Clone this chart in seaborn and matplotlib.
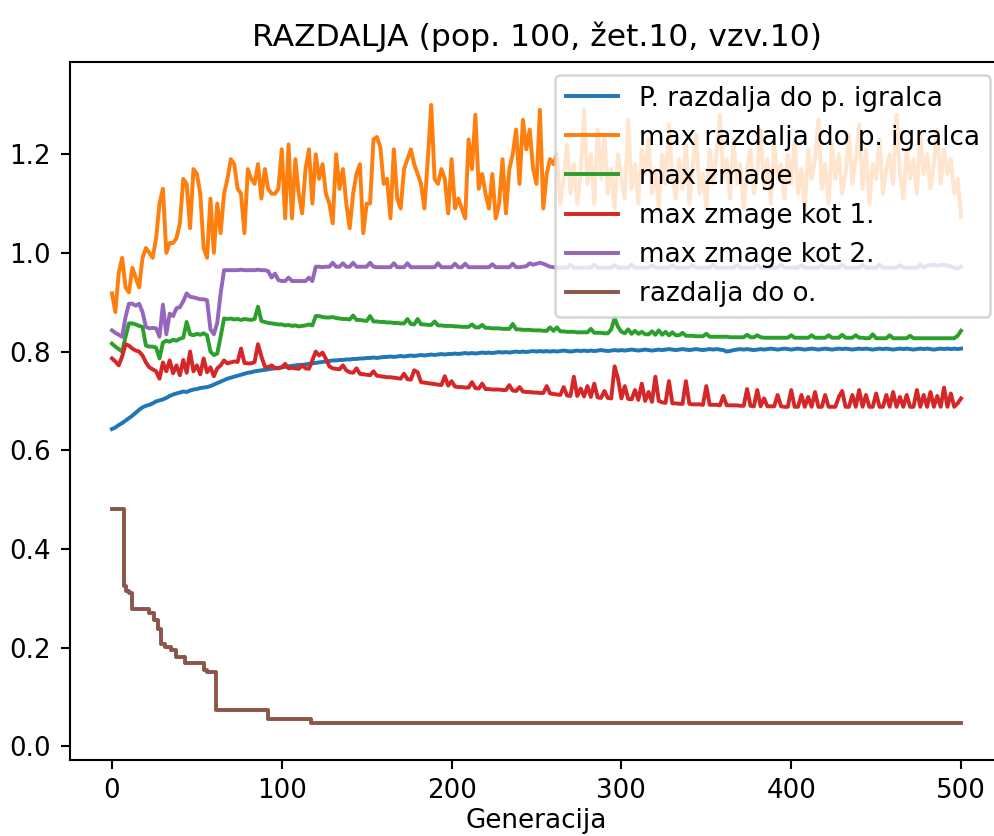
import matplotlib
matplotlib.use("Agg")
import matplotlib.pyplot as plt
import seaborn as sns
import pandas as pd

# generations sampled every second step
GENERACIJE = list(range(0, 501, 2))

P_RAZDALJA = [
    0.643, 0.646, 0.651, 0.655, 0.660, 0.665, 0.670, 0.676, 0.682, 0.687,
    0.690, 0.692, 0.695, 0.699, 0.701, 0.703, 0.706, 0.710, 0.713, 0.715,
    0.717, 0.719, 0.718, 0.721, 0.723, 0.724, 0.726, 0.727, 0.728, 0.730,
    0.733, 0.736, 0.739, 0.742, 0.745, 0.747, 0.749, 0.751, 0.753, 0.755,
    0.757, 0.758, 0.760, 0.761, 0.762, 0.763, 0.764, 0.765, 0.766, 0.767,
    0.768, 0.769, 0.770, 0.771, 0.772, 0.773, 0.773, 0.774, 0.775, 0.776,
    0.777, 0.778, 0.779, 0.780, 0.781, 0.782, 0.782, 0.783, 0.783, 0.784,
    0.784, 0.785, 0.785, 0.786, 0.786, 0.787, 0.787, 0.788, 0.787, 0.788,
    0.789, 0.789, 0.790, 0.789, 0.790, 0.791, 0.790, 0.791, 0.792, 0.791,
    0.792, 0.793, 0.792, 0.793, 0.794, 0.793, 0.794, 0.795, 0.794, 0.795,
    0.795, 0.796, 0.795, 0.796, 0.797, 0.796, 0.797, 0.796, 0.797, 0.798,
    0.797, 0.798, 0.797, 0.798, 0.799, 0.798, 0.799, 0.798, 0.799, 0.800,
    0.799, 0.800, 0.799, 0.800, 0.801, 0.800, 0.801, 0.800, 0.801, 0.800,
    0.801, 0.800, 0.801, 0.802, 0.801, 0.800, 0.801, 0.802, 0.801, 0.802,
    0.801, 0.802, 0.801, 0.802, 0.803, 0.802, 0.801, 0.802, 0.803, 0.802,
    0.803, 0.802, 0.803, 0.804, 0.803, 0.802, 0.803, 0.804, 0.803, 0.802,
    0.803, 0.804, 0.803, 0.804, 0.805, 0.804, 0.803, 0.804, 0.805, 0.804,
    0.803, 0.804, 0.805, 0.804, 0.803, 0.804, 0.805, 0.804, 0.805, 0.804,
    0.803, 0.800, 0.801, 0.803, 0.804, 0.805, 0.804, 0.805, 0.804, 0.803,
    0.804, 0.805, 0.804, 0.805, 0.806, 0.805, 0.804, 0.805, 0.806, 0.805,
    0.804, 0.805, 0.806, 0.805, 0.804, 0.805, 0.806, 0.805, 0.804, 0.805,
    0.806, 0.805, 0.804, 0.805, 0.806, 0.805, 0.806, 0.805, 0.804, 0.805,
    0.806, 0.805, 0.806, 0.805, 0.804, 0.805, 0.806, 0.805, 0.806, 0.805,
    0.804, 0.805, 0.806, 0.805, 0.806, 0.805, 0.804, 0.805, 0.806, 0.805,
    0.806, 0.805, 0.804, 0.805, 0.806, 0.805, 0.806, 0.805, 0.806, 0.805,
    0.806,
]

MAX_RAZDALJA = [
    0.918, 0.880, 0.960, 0.990, 0.930, 0.920, 0.970, 0.950, 0.930, 0.990,
    1.010, 1.000, 0.990, 1.030, 1.100, 1.130, 1.000, 1.020, 1.020, 1.030,
    1.060, 1.150, 1.140, 1.050, 1.170, 1.160, 1.120, 1.010, 0.990, 1.110,
    1.000, 1.100, 1.040, 1.120, 1.150, 1.190, 1.180, 1.130, 1.120, 1.040,
    1.170, 1.150, 1.140, 1.180, 1.110, 1.170, 1.130, 1.120, 1.120, 1.130,
    1.210, 1.070, 1.220, 1.070, 1.190, 1.120, 1.080, 1.170, 1.210, 1.100,
    1.200, 1.150, 1.180, 1.120, 1.100, 1.060, 1.200, 1.130, 1.170, 1.100,
    1.050, 1.120, 1.160, 1.180, 1.040, 1.100, 1.100, 1.230, 1.235, 1.215,
    1.140, 1.150, 1.070, 1.210, 1.110, 1.090, 1.170, 1.190, 1.210, 1.180,
    1.160, 1.140, 1.090, 1.190, 1.300, 1.150, 1.140, 1.170, 1.150, 1.080,
    1.190, 1.090, 1.110, 1.090, 1.070, 1.230, 1.170, 1.280, 1.130, 1.160,
    1.120, 1.090, 1.160, 1.070, 1.100, 1.190, 1.080, 1.170, 1.200, 1.250,
    1.140, 1.270, 1.210, 1.250, 1.170, 1.140, 1.290, 1.090, 1.160, 1.190,
    1.180, 1.200, 1.100, 1.150, 1.220, 1.120, 1.180, 1.100, 1.160, 1.290,
    1.140, 1.200, 1.100, 1.250, 1.150, 1.240, 1.120, 1.170, 1.090, 1.200,
    1.150, 1.110, 1.270, 1.130, 1.180, 1.100, 1.210, 1.160, 1.230, 1.120,
    1.170, 1.090, 1.200, 1.140, 1.260, 1.150, 1.110, 1.190, 1.130, 1.220,
    1.100, 1.180, 1.240, 1.120, 1.160, 1.090, 1.210, 1.140, 1.200, 1.280,
    1.150, 1.190, 1.110, 1.230, 1.140, 1.180, 1.090, 1.170, 1.210, 1.120,
    1.160, 1.250, 1.130, 1.190, 1.100, 1.220, 1.150, 1.180, 1.110, 1.200,
    1.140, 1.230, 1.120, 1.170, 1.090, 1.210, 1.150, 1.190, 1.270, 1.130,
    1.180, 1.100, 1.220, 1.150, 1.200, 1.120, 1.160, 1.240, 1.140, 1.190,
    1.260, 1.130, 1.210, 1.100, 1.180, 1.150, 1.230, 1.120, 1.170, 1.200,
    1.140, 1.280, 1.160, 1.110, 1.210, 1.150, 1.190, 1.120, 1.240, 1.160,
    1.200, 1.130, 1.180, 1.250, 1.140, 1.210, 1.160, 1.190, 1.120, 1.150,
    1.073,
]

MAX_ZMAGE = [
    0.816, 0.810, 0.805, 0.800, 0.830, 0.857, 0.857, 0.855, 0.852, 0.850,
    0.812, 0.810, 0.810, 0.808, 0.786, 0.818, 0.822, 0.820, 0.824, 0.822,
    0.826, 0.828, 0.860, 0.835, 0.833, 0.836, 0.834, 0.837, 0.833, 0.800,
    0.793, 0.796, 0.830, 0.867, 0.866, 0.867, 0.865, 0.866, 0.864, 0.866,
    0.865, 0.864, 0.866, 0.891, 0.862, 0.860, 0.858, 0.857, 0.856, 0.855,
    0.855, 0.853, 0.854, 0.852, 0.853, 0.851, 0.852, 0.853, 0.855, 0.853,
    0.872, 0.872, 0.870, 0.869, 0.869, 0.870, 0.868, 0.867, 0.866, 0.866,
    0.865, 0.873, 0.864, 0.864, 0.863, 0.862, 0.872, 0.861, 0.861, 0.860,
    0.860, 0.859, 0.859, 0.858, 0.858, 0.857, 0.857, 0.866, 0.856, 0.855,
    0.866, 0.855, 0.855, 0.854, 0.854, 0.861, 0.853, 0.853, 0.852, 0.852,
    0.852, 0.851, 0.851, 0.850, 0.850, 0.850, 0.855, 0.849, 0.849, 0.854,
    0.848, 0.848, 0.847, 0.847, 0.847, 0.846, 0.846, 0.846, 0.856, 0.845,
    0.845, 0.844, 0.844, 0.844, 0.843, 0.843, 0.843, 0.842, 0.842, 0.849,
    0.842, 0.849, 0.841, 0.841, 0.840, 0.840, 0.840, 0.839, 0.839, 0.839,
    0.839, 0.846, 0.838, 0.838, 0.838, 0.837, 0.837, 0.845, 0.868, 0.850,
    0.840, 0.837, 0.845, 0.836, 0.842, 0.836, 0.840, 0.835, 0.835, 0.841,
    0.834, 0.843, 0.834, 0.840, 0.833, 0.839, 0.833, 0.833, 0.838, 0.832,
    0.832, 0.832, 0.831, 0.831, 0.831, 0.836, 0.830, 0.830, 0.830, 0.830,
    0.830, 0.830, 0.829, 0.829, 0.829, 0.829, 0.829, 0.834, 0.829, 0.829,
    0.833, 0.829, 0.828, 0.828, 0.828, 0.828, 0.828, 0.828, 0.828, 0.828,
    0.833, 0.828, 0.828, 0.828, 0.828, 0.828, 0.833, 0.828, 0.828, 0.828,
    0.828, 0.833, 0.828, 0.828, 0.828, 0.834, 0.828, 0.828, 0.828, 0.833,
    0.828, 0.828, 0.827, 0.827, 0.835, 0.827, 0.827, 0.827, 0.827, 0.833,
    0.827, 0.827, 0.827, 0.827, 0.827, 0.832, 0.827, 0.827, 0.827, 0.827,
    0.827, 0.827, 0.827, 0.827, 0.827, 0.827, 0.827, 0.827, 0.827, 0.832,
    0.842,
]

MAX_ZMAGE_KOT1 = [
    0.786, 0.780, 0.772, 0.790, 0.815, 0.812, 0.806, 0.802, 0.800, 0.792,
    0.778, 0.768, 0.764, 0.760, 0.745, 0.778, 0.760, 0.782, 0.756, 0.772,
    0.752, 0.783, 0.757, 0.800, 0.760, 0.772, 0.754, 0.786, 0.758, 0.768,
    0.750, 0.766, 0.772, 0.782, 0.776, 0.778, 0.780, 0.779, 0.806, 0.777,
    0.776, 0.776, 0.779, 0.815, 0.790, 0.770, 0.768, 0.772, 0.767, 0.766,
    0.768, 0.775, 0.766, 0.767, 0.766, 0.765, 0.772, 0.766, 0.765, 0.782,
    0.800, 0.792, 0.798, 0.785, 0.770, 0.766, 0.765, 0.764, 0.772, 0.762,
    0.758, 0.757, 0.766, 0.755, 0.754, 0.753, 0.752, 0.760, 0.751, 0.750,
    0.749, 0.748, 0.748, 0.747, 0.746, 0.745, 0.755, 0.744, 0.743, 0.762,
    0.758, 0.738, 0.737, 0.736, 0.735, 0.734, 0.733, 0.732, 0.750, 0.731,
    0.740, 0.729, 0.728, 0.728, 0.727, 0.727, 0.738, 0.726, 0.725, 0.735,
    0.724, 0.724, 0.723, 0.723, 0.723, 0.722, 0.722, 0.732, 0.721, 0.720,
    0.728, 0.719, 0.718, 0.718, 0.717, 0.717, 0.716, 0.716, 0.730, 0.715,
    0.714, 0.713, 0.712, 0.728, 0.711, 0.710, 0.749, 0.710, 0.725, 0.709,
    0.730, 0.708, 0.735, 0.707, 0.706, 0.720, 0.706, 0.705, 0.770, 0.745,
    0.705, 0.730, 0.704, 0.703, 0.722, 0.702, 0.735, 0.700, 0.718, 0.698,
    0.749, 0.700, 0.697, 0.696, 0.740, 0.695, 0.695, 0.694, 0.694, 0.740,
    0.694, 0.693, 0.693, 0.693, 0.692, 0.730, 0.692, 0.692, 0.692, 0.691,
    0.710, 0.691, 0.691, 0.691, 0.691, 0.690, 0.690, 0.724, 0.690, 0.689,
    0.722, 0.689, 0.705, 0.689, 0.689, 0.689, 0.712, 0.689, 0.688, 0.688,
    0.722, 0.688, 0.688, 0.712, 0.688, 0.708, 0.688, 0.718, 0.688, 0.688,
    0.712, 0.688, 0.688, 0.688, 0.708, 0.720, 0.688, 0.688, 0.712, 0.688,
    0.722, 0.688, 0.712, 0.688, 0.688, 0.715, 0.688, 0.688, 0.712, 0.688,
    0.718, 0.688, 0.708, 0.688, 0.712, 0.688, 0.688, 0.722, 0.688, 0.712,
    0.688, 0.718, 0.688, 0.710, 0.688, 0.727, 0.688, 0.715, 0.688, 0.695,
    0.705,
]

MAX_ZMAGE_KOT2 = [
    0.843, 0.838, 0.834, 0.830, 0.870, 0.897, 0.897, 0.893, 0.897, 0.880,
    0.850, 0.847, 0.848, 0.847, 0.830, 0.895, 0.835, 0.877, 0.872, 0.888,
    0.890, 0.902, 0.918, 0.911, 0.910, 0.908, 0.906, 0.906, 0.904, 0.845,
    0.835, 0.858, 0.918, 0.965, 0.965, 0.965, 0.965, 0.965, 0.966, 0.965,
    0.965, 0.965, 0.965, 0.966, 0.965, 0.965, 0.963, 0.950, 0.958, 0.945,
    0.943, 0.943, 0.950, 0.943, 0.943, 0.943, 0.943, 0.943, 0.950, 0.943,
    0.972, 0.972, 0.971, 0.972, 0.972, 0.980, 0.972, 0.972, 0.979, 0.972,
    0.972, 0.980, 0.972, 0.972, 0.972, 0.972, 0.980, 0.972, 0.971, 0.971,
    0.971, 0.971, 0.971, 0.979, 0.971, 0.971, 0.971, 0.979, 0.971, 0.971,
    0.971, 0.971, 0.971, 0.971, 0.971, 0.971, 0.979, 0.971, 0.971, 0.971,
    0.971, 0.978, 0.971, 0.971, 0.978, 0.971, 0.971, 0.971, 0.971, 0.971,
    0.971, 0.971, 0.977, 0.971, 0.971, 0.971, 0.971, 0.971, 0.978, 0.971,
    0.971, 0.972, 0.973, 0.979, 0.976, 0.978, 0.980, 0.978, 0.975, 0.972,
    0.971, 0.970, 0.970, 0.970, 0.970, 0.976, 0.970, 0.970, 0.970, 0.970,
    0.970, 0.970, 0.976, 0.970, 0.970, 0.970, 0.970, 0.970, 0.975, 0.970,
    0.970, 0.970, 0.970, 0.976, 0.970, 0.970, 0.970, 0.970, 0.970, 0.975,
    0.970, 0.970, 0.970, 0.970, 0.970, 0.975, 0.970, 0.970, 0.970, 0.970,
    0.970, 0.975, 0.970, 0.970, 0.970, 0.970, 0.970, 0.976, 0.970, 0.970,
    0.970, 0.970, 0.970, 0.970, 0.975, 0.970, 0.970, 0.970, 0.970, 0.970,
    0.975, 0.970, 0.970, 0.970, 0.970, 0.970, 0.970, 0.976, 0.970, 0.970,
    0.970, 0.970, 0.970, 0.975, 0.970, 0.970, 0.970, 0.970, 0.970, 0.975,
    0.970, 0.970, 0.970, 0.970, 0.970, 0.976, 0.970, 0.970, 0.970, 0.970,
    0.970, 0.975, 0.970, 0.970, 0.970, 0.970, 0.976, 0.970, 0.970, 0.970,
    0.970, 0.970, 0.975, 0.970, 0.970, 0.970, 0.970, 0.970, 0.976, 0.970,
    0.974, 0.975, 0.976, 0.974, 0.975, 0.976, 0.974, 0.973, 0.970, 0.968,
    0.972,
]

# distance to the opponent only changes at a few generations
RAZDALJA_O_GEN = [0, 7, 8, 10, 12, 22, 25, 27, 29, 31, 35, 38, 43, 54, 56, 61, 92, 117, 500]
RAZDALJA_O = [0.480, 0.325, 0.315, 0.310, 0.279, 0.269, 0.255, 0.238, 0.208, 0.201,
              0.195, 0.181, 0.168, 0.154, 0.151, 0.073, 0.056, 0.047, 0.047]

OZNAKE = [
    "P. razdalja do p. igralca",
    "max razdalja do p. igralca",
    "max zmage",
    "max zmage kot 1.",
    "max zmage kot 2.",
    "razdalja do o.",
]
BARVE = ["#1f77b4", "#ff7f0e", "#2ca02c", "#d62728", "#9467bd", "#8c564b"]

serije = [P_RAZDALJA, MAX_RAZDALJA, MAX_ZMAGE, MAX_ZMAGE_KOT1, MAX_ZMAGE_KOT2]
for s in serije:
    assert len(s) == len(GENERACIJE), len(s)

DPI = 188
fig = plt.figure(figsize=(994 / DPI, 836 / DPI), dpi=DPI)
ax = fig.add_axes([69.5 / 994, 76 / 836, 934 / 994, 698 / 836])

for vrednosti, oznaka, barva in zip(serije, OZNAKE[:5], BARVE[:5]):
    df = pd.DataFrame({"Generacija": GENERACIJE, "vrednost": vrednosti})
    sns.lineplot(data=df, x="Generacija", y="vrednost", color=barva, label=oznaka,
                 estimator=None, errorbar=None, linewidth=1.5, ax=ax)

df_o = pd.DataFrame({"Generacija": RAZDALJA_O_GEN, "vrednost": RAZDALJA_O})
sns.lineplot(data=df_o, x="Generacija", y="vrednost", color=BARVE[5], label=OZNAKE[5],
             estimator=None, errorbar=None, linewidth=1.5, drawstyle="steps-post", ax=ax)

ax.set_xlim(-25, 525)
ax.set_ylim(-0.028, 1.387)
ax.set_xticks([0, 100, 200, 300, 400, 500])
ax.set_yticks([0.0, 0.2, 0.4, 0.6, 0.8, 1.0, 1.2])
ax.set_ylabel("")
ax.set_xlabel("Generacija", labelpad=1.5)
ax.set_title("RAZDALJA (pop. 100, žet.10, vzv.10)")
ax.legend(loc="upper right")

fig.savefig("out.png", dpi=DPI)
